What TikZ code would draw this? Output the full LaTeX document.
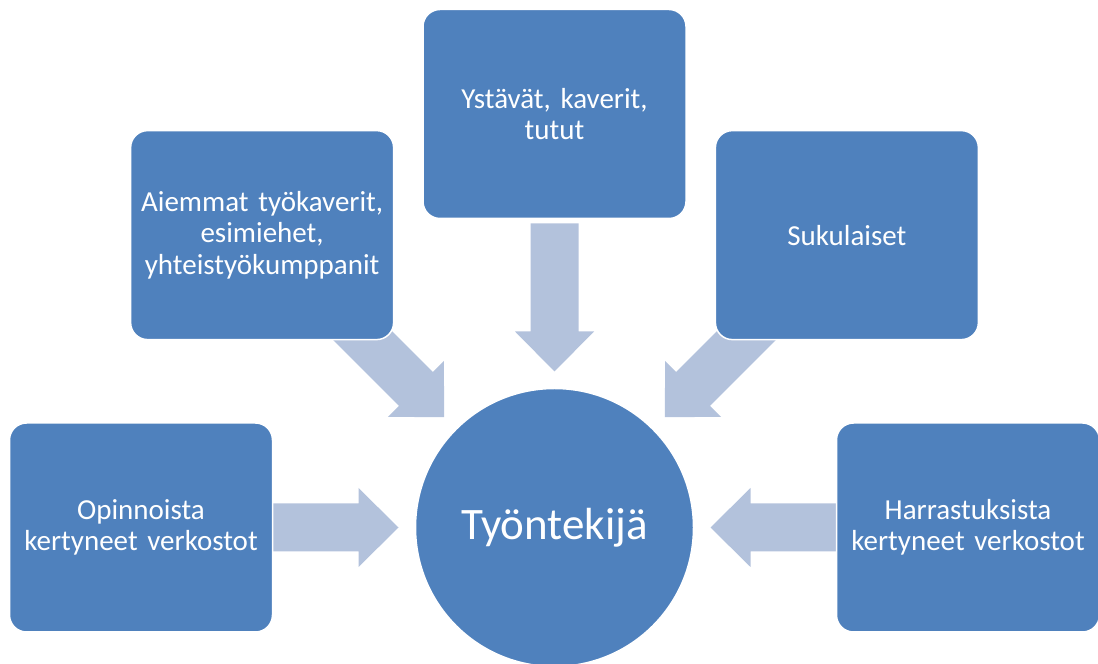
\documentclass[tikz,border=0pt]{standalone}
\usepackage{fontspec}
\setmainfont{Carlito}
\usetikzlibrary{calc}
\definecolor{boxblue}{HTML}{4F81BD}
\definecolor{arrowblue}{HTML}{B3C2DC}
\tikzset{
  box/.style={draw=white, line width=1.5pt, fill=boxblue, rounded corners=17pt,
    minimum width=263pt, minimum height=209pt, text width=257pt, align=center,
    text=white, inner sep=0pt, font=\fontsize{29}{31.5}\selectfont},
  hub/.style={circle, draw=white, line width=1.5pt, fill=boxblue, minimum size=278pt,
    inner sep=0pt, text=white, font=\fontsize{45}{52}\selectfont},
  blockarrow/.style={fill=arrowblue, draw=none}
}
\newcommand\myarrow[1]{%
  \begin{scope}[shift={(c)}, rotate=#1]
    \fill[blockarrow] (156,0) -- (196,39.5) -- (196,24) -- (304,24) -- (304,-24)
      -- (196,-24) -- (196,-39.5) -- cycle;
  \end{scope}}
\begin{document}
\begin{tikzpicture}[x=1pt,y=1pt]
\useasboundingbox (0,0) rectangle (1098,664);
\coordinate (c) at (554.5,136.5);
\myarrow{0}
\myarrow{45}
\myarrow{90}
\myarrow{135}
\myarrow{180}
\node[box] (top) at ($(c)+(90:413.5)$) {Ystävät, kaverit,\\tutut};
\node[box] (ul) at ($(c)+(135:413.5)$) {Aiemmat työkaverit,\\esimiehet,\\yhteistyökumppanit};
\node[box] (ur) at ($(c)+(45:413.5)$) {Sukulaiset};
\node[box] (l) at ($(c)+(180:413.5)$) {Opinnoista\\kertyneet verkostot};
\node[box] (r) at ($(c)+(0:413.5)$) {Harrastuksista\\kertyneet verkostot};
\node[hub] (hub) at (c) {Työntekijä};
\end{tikzpicture}
\end{document}
